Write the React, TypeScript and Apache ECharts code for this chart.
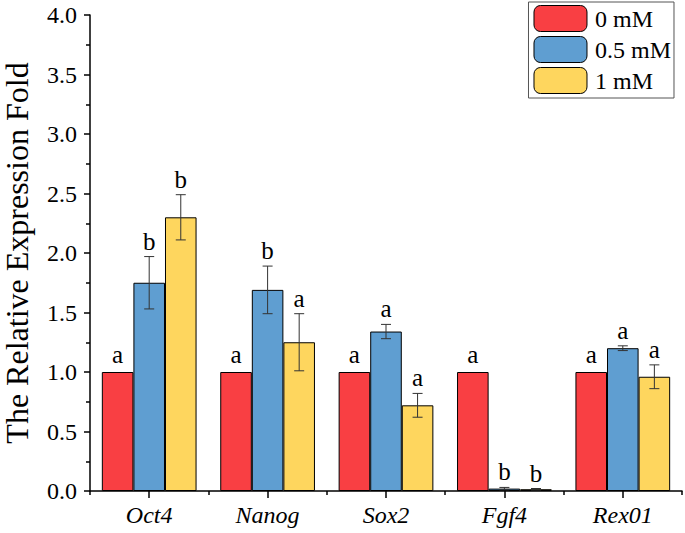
import React, { useEffect, useRef } from "react";
import * as echarts from "echarts";

const categories = ["Oct4", "Nanog", "Sox2", "Fgf4", "Rex01"];
const seriesNames = ["0 mM", "0.5 mM", "1 mM"];
const colors = ["#F93F43", "#5F9ED1", "#FED65E"];
const values0 = [1.0, 1.0, 1.0, 1.0, 1.0];
const values05 = [1.75, 1.69, 1.34, 0.02, 1.2];
const values1 = [2.3, 1.25, 0.72, 0.015, 0.96];
const err0 = [0, 0, 0, 0, 0];
const err05 = [0.22, 0.2, 0.06, 0.01, 0.02];
const err1 = [0.19, 0.24, 0.1, 0.006, 0.1];
const letters0 = ["a", "a", "a", "a", "a"];
const letters05 = ["b", "b", "a", "b", "a"];
const letters1 = ["b", "a", "a", "b", "a"];
const yTicks = [0, 0.5, 1.0, 1.5, 2.0, 2.5, 3.0, 3.5, 4.0];

const FONT = "'Liberation Serif', 'Times New Roman', serif";

export default function App() {
  const ref = useRef<HTMLDivElement>(null);
  useEffect(() => {
    if (!ref.current) return;
    const chart = echarts.init(ref.current, null, { renderer: "svg" });
    const vals = [values0, values05, values1];
    const errs = [err0, err05, err1];
    const lets = [letters0, letters05, letters1];

    const barSeries = seriesNames.map((name, i) => ({
      name,
      type: "bar",
      data: vals[i],
      barGap: "0%",
      barCategoryGap: "20%",
      itemStyle: { color: colors[i], borderColor: "#000", borderWidth: 1 },
    }));

    const errSeries = seriesNames.map((name, i) => ({
      type: "custom",
      name: "err" + i,
      z: 5,
      data: vals[i].map((v, k) => [k, v, errs[i][k]]),
      renderItem: (params: any, api: any) => {
        const k = api.value(0);
        const v = api.value(1);
        const e = api.value(2);
        const letter = lets[i][k];
        const band = api.size([1, 0])[0];
        const bw = (band * 0.8) / 3;
        const c = api.coord([k, v]);
        const x = c[0] + (i - 1) * bw;
        const top = api.coord([k, v + e])[1];
        const bot = api.coord([k, v - e])[1];
        const children: any[] = [];
        if (e > 0) {
          const cap = 5;
          const st = { stroke: "#333", lineWidth: 1 };
          children.push({ type: "line", shape: { x1: x, y1: top, x2: x, y2: bot }, style: st });
          children.push({ type: "line", shape: { x1: x - cap, y1: top, x2: x + cap, y2: top }, style: st });
          children.push({ type: "line", shape: { x1: x - cap, y1: bot, x2: x + cap, y2: bot }, style: st });
        }
        const ty = e > 0 ? top - 3 : c[1] - 5;
        children.push({
          type: "text",
          style: {
            text: letter,
            x,
            y: ty,
            textAlign: "center",
            textVerticalAlign: "bottom",
            fontFamily: FONT,
            fontSize: 25,
            fill: "#000",
          },
        });
        return { type: "group", children };
      },
    }));

    chart.setOption({
      animation: false,
      grid: { left: 90, right: 3, top: 15, bottom: 42, outerBoundsMode: "none", containLabel: false },
      legend: {
        data: seriesNames,
        orient: "vertical",
        right: 11,
        top: 2,
        itemWidth: 53,
        itemHeight: 26,
        itemGap: 4,
        padding: [3, 3, 4, 5],
        borderColor: "#555",
        borderWidth: 1,
        backgroundColor: "#fff",
        itemStyle: { borderColor: "#000", borderWidth: 1 },
        textStyle: { fontFamily: FONT, fontSize: 24, color: "#000", padding: [0, 0, 0, 3] },
      },
      xAxis: [
        {
          type: "category",
          data: categories,
          axisLine: { lineStyle: { color: "#000", width: 1.5 } },
          axisTick: { show: true, alignWithLabel: true, length: 7, lineStyle: { color: "#000", width: 1.5 } },
          axisLabel: { fontFamily: FONT, fontSize: 24, fontStyle: "italic", color: "#000", margin: 12 },
        },
        {
          type: "category",
          data: categories,
          position: "bottom",
          axisLine: { show: false },
          axisTick: { show: true, length: 4, lineStyle: { color: "#000", width: 1.5 } },
          axisLabel: { show: false },
        },
      ],
      yAxis: {
        type: "value",
        min: 0,
        max: 4,
        interval: 0.5,
        name: "The Relative Expression Fold",
        nameLocation: "middle",
        nameGap: 57,
        nameTextStyle: { fontFamily: FONT, fontSize: 32, color: "#000" },
        axisLine: { show: true, lineStyle: { color: "#000", width: 1.5 } },
        axisTick: { show: true, length: 6, lineStyle: { color: "#000", width: 1.5 } },
        minorTick: { show: true, splitNumber: 2, length: 4, lineStyle: { color: "#000", width: 1.5 } },
        splitLine: { show: false },
        axisLabel: {
          fontFamily: FONT,
          fontSize: 24,
          color: "#000",
          margin: 13,
          formatter: (v: number) => {
            const t = yTicks.find((y) => Math.abs(y - v) < 1e-9);
            return (t !== undefined ? t : v).toFixed(1);
          },
        },
      },
      series: [...barSeries, ...errSeries],
    });
    return () => chart.dispose();
  }, []);
  return <div ref={ref} style={{ width: 685, height: 533, position: "absolute", left: 0, top: 0 }} />;
}
